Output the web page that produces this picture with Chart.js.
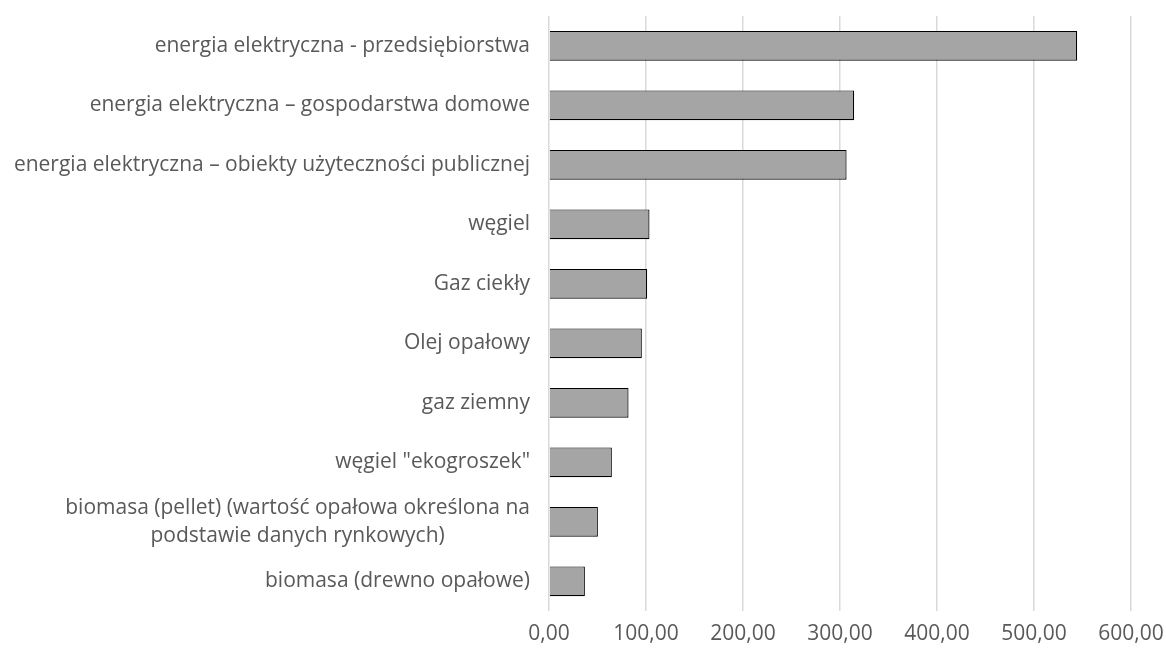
<!DOCTYPE html>
<html>
<head>
<meta charset="utf-8">
<script src="https://cdn.jsdelivr.net/npm/chart.js@4"></script>
<style>
html,body{margin:0;padding:0;background:#fff;}
#wrap{width:1166px;height:651px;position:relative;}
</style>
</head>
<body>
<div id="wrap"><canvas id="c" width="1166" height="651"></canvas></div>
<script>
const categories = [
  'energia elektryczna - przedsiębiorstwa',
  'energia elektryczna – gospodarstwa domowe',
  'energia elektryczna – obiekty użyteczności publicznej',
  'węgiel',
  'Gaz ciekły',
  'Olej opałowy',
  'gaz ziemny',
  'węgiel "ekogroszek"',
  ['biomasa (pellet) (wartość opałowa określona na', 'podstawie danych rynkowych)'],
  'biomasa (drewno opałowe)'
];
const values = [544.5, 314.6, 306.8, 103.6, 101.2, 95.7, 82.0, 64.8, 50.4, 37.0];
const xTickLabels = ['0,00', '100,00', '200,00', '300,00', '400,00', '500,00', '600,00'];

const FONT = '"Open Sans"';
const FSIZE = 21;
const TEXT = '#595959';

const yLabelPlugin = {
  id: 'yLabels',
  afterDraw(chart) {
    const ctx = chart.ctx;
    const ys = chart.scales.y;
    const xRight = ys.right - 19;
    ctx.save();
    ctx.font = FSIZE + 'px ' + FONT;
    ctx.fillStyle = TEXT;
    ctx.textBaseline = 'middle';
    ctx.textAlign = 'center';
    const lh = FSIZE * 1.35;
    chart.data.labels.forEach((lab, i) => {
      const lines = Array.isArray(lab) ? lab : [lab];
      const w = Math.max(...lines.map(l => ctx.measureText(l).width));
      const cx = xRight - w / 2;
      const cy = ys.getPixelForValue(i);
      const y0 = cy - (lines.length - 1) * lh / 2;
      lines.forEach((l, k) => ctx.fillText(l, cx, y0 + k * lh));
    });
    ctx.restore();
  }
};

new Chart(document.getElementById('c'), {
  type: 'bar',
  data: {
    labels: categories,
    datasets: [{
      data: values,
      backgroundColor: '#a5a5a5',
      borderColor: '#000000',
      borderWidth: 1.2,
      borderSkipped: 'start',
      barPercentage: 0.5,
      categoryPercentage: 1.0
    }]
  },
  options: {
    indexAxis: 'y',
    responsive: false,
    animation: false,
    devicePixelRatio: 1,
    layout: { padding: { left: 0, right: 35, top: 16, bottom: 0 } },
    plugins: { legend: { display: false }, tooltip: { enabled: false } },
    scales: {
      x: {
        min: 0, max: 600,
        ticks: {
          stepSize: 100,
          padding: 10,
          color: TEXT,
          font: { family: 'Open Sans', size: FSIZE },
          callback: (v, i) => xTickLabels[i]
        },
        grid: { color: '#d9d9d9', lineWidth: 1.5, drawTicks: false },
        border: { display: false },
        afterFit: s => { s.height = 40; s.paddingLeft = 0; s.paddingRight = 0; }
      },
      y: {
        ticks: { display: false },
        grid: { display: false },
        border: { display: false },
        afterFit: s => { s.width = 549; }
      }
    }
  },
  plugins: [yLabelPlugin]
});
</script>
</body>
</html>
